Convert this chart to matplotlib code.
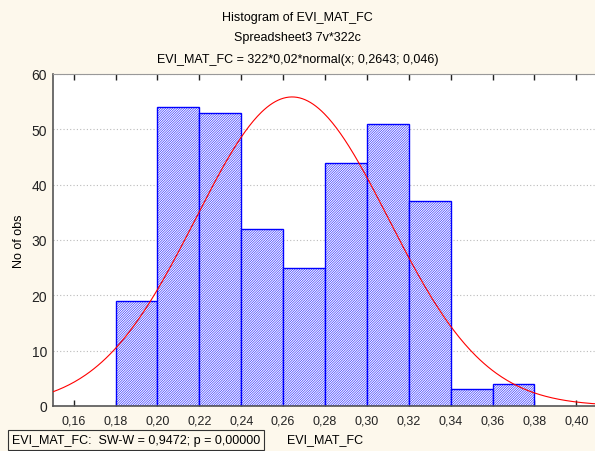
import numpy as np
import matplotlib
matplotlib.use("Agg")
import matplotlib.pyplot as plt

plt.rcParams["font.family"] = ["Liberation Sans", "DejaVu Sans"]
plt.rcParams["hatch.linewidth"] = 0.35
plt.rcParams["hatch.color"] = "#5050ff"

# histogram data (bin edges and counts)
bin_left = [0.18, 0.20, 0.22, 0.24, 0.26, 0.28, 0.30, 0.32, 0.34, 0.36]
counts = [19, 54, 53, 32, 25, 44, 51, 37, 3, 4]
bin_width = 0.02
n_obs = 322
mu, sigma = 0.2643, 0.046
xticks = [0.16, 0.18, 0.20, 0.22, 0.24, 0.26, 0.28, 0.30, 0.32, 0.34, 0.36, 0.38, 0.40]
yticks = [0, 10, 20, 30, 40, 50, 60]

BG = "#fdf8ec"

fig = plt.figure(figsize=(5.95, 4.52), dpi=100, facecolor=BG)
ax = fig.add_axes([0.0886, 0.0996, 1.0 - 0.0886 + 0.002, 0.7345])
ax.set_facecolor("white")

ax.bar(bin_left, counts, width=bin_width, align="edge", facecolor="#f6f6ff",
       edgecolor="#0000ff", linewidth=1.0, hatch="/" * 14, zorder=2)

xs = np.linspace(0.15, 0.41, 400)
ys = n_obs * bin_width * np.exp(-0.5 * ((xs - mu) / sigma) ** 2) / (sigma * np.sqrt(2 * np.pi))
ax.plot(xs, ys, color="#ff0000", linewidth=0.8, zorder=3)

ax.set_xlim(0.15, 0.4095)
ax.set_ylim(0, 60)
ax.set_xticks(xticks)
ax.set_xticklabels([f"{t:.2f}".replace(".", ",") for t in xticks], fontsize=9)
ax.set_yticks(yticks)
ax.set_yticklabels([str(t) for t in yticks], fontsize=10)
ax.tick_params(axis="x", direction="in", top=True, length=4, width=1, colors="#222222", pad=6)
ax.tick_params(axis="y", length=0, pad=4, colors="#222222")
for t in ax.get_xticklabels() + ax.get_yticklabels():
    t.set_color("#222222")

ax.yaxis.grid(True, linestyle=(0, (1, 2)), color="#bbbbbb", linewidth=0.8, zorder=0)
ax.set_axisbelow(True)
for side in ["left", "bottom"]:
    ax.spines[side].set_color("#555555")
    ax.spines[side].set_linewidth(1.2)
ax.spines["top"].set_color("#999999")
ax.spines["right"].set_visible(False)

ax.set_ylabel("No of obs", fontsize=9, labelpad=5)

fig.text(0.5, 1 - 18 / 452, "Histogram of EVI_MAT_FC", ha="center", va="center", fontsize=9)
fig.text(0.5, 1 - 38 / 452, "Spreadsheet3 7v*322c", ha="center", va="center", fontsize=9)
fig.text(0.5, 1 - 60 / 452, "EVI_MAT_FC = 322*0,02*normal(x; 0,2643; 0,046)",
         ha="center", va="center", fontsize=9)

fig.text(12 / 595, 1 - 441 / 452, "EVI_MAT_FC:  SW-W = 0,9472; p = 0,00000",
         ha="left", va="center", fontsize=9,
         bbox=dict(boxstyle="square,pad=0.3", facecolor=BG, edgecolor="#333333", linewidth=0.8))
fig.text(287 / 595, 1 - 440 / 452, "EVI_MAT_FC", ha="left", va="center", fontsize=9)

fig.savefig("out.png", dpi=100, facecolor=BG)
